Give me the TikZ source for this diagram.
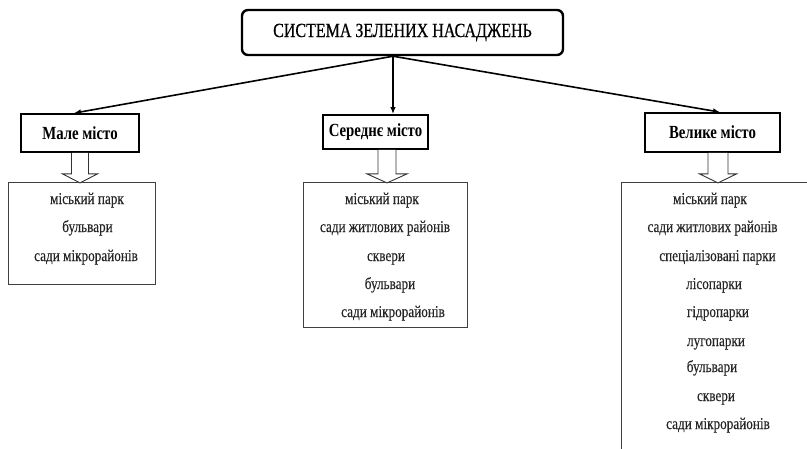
\documentclass[tikz,border=0pt]{standalone}
\usepackage{fontspec}
\setmainfont{Liberation Serif}[FakeStretch=0.8]
\newfontfamily\titlefont{Liberation Serif}[FakeStretch=0.8,FakeBold=0.6]
\newfontfamily\itemfont{Liberation Serif}[FakeStretch=0.8,FakeBold=0.25]
\usetikzlibrary{arrows.meta}
\newcommand\HollowArr[6]{\draw[hollow] ([xshift={#2-#3}]#1.south) -- ++(0,#5) -- ++(#3-#4,0) -- ++(#4,#6) -- ++(#4,-#6) -- ++(#3-#4,0) -- ++(0,-#5);}
\begin{document}
\begin{tikzpicture}[x=1pt,y=-1pt,
 titlebox/.style={draw,line width=2.4pt,rounded corners=6pt,minimum width=321pt,minimum height=45pt,inner sep=0pt,font=\titlefont\fontsize{20}{20}\selectfont},
 citybox/.style={draw,line width=1.8pt,inner sep=0pt,font=\bfseries\fontsize{18.5}{18.5}\selectfont},
 listbox/.style={draw=black!75,line width=0.9pt,inner sep=0pt},
 item/.style={inner sep=0pt,anchor=base,font=\itemfont\fontsize{16.5}{16.5}\selectfont,text=black!85},
 conn/.style={line width=1.6pt,-{Latex[length=7pt,width=5.5pt]}},
 hollow/.style={draw=black!80,line width=0.9pt,fill=white,line join=miter}]
\clip (0,0) rectangle (807,448);
\fill[white] (0,0) rectangle (807,448);
\node[titlebox] (title) at (402.5,32.5) {СИСТЕМА ЗЕЛЕНИХ НАСАДЖЕНЬ};
\node[citybox,minimum width=118pt,minimum height=38pt] (male) at (80,133) {Мале місто};
\node[citybox,minimum width=105pt,minimum height=34pt] (ser) at (375.5,132) {Середнє місто};
\node[citybox,minimum width=135pt,minimum height=39pt] (vel) at (712.5,132.5) {Велике місто};
\node[listbox,minimum width=147pt,minimum height=102pt] (lbox) at (81.5,233) {};
\node[listbox,minimum width=164pt,minimum height=145pt] (mbox) at (385,254.5) {};
\node[listbox,minimum width=192pt,minimum height=280pt] (rbox) at (717,322) {};
\coordinate (o) at ([xshift=-9.5pt]title.south);
\draw[conn] (o) -- ([xshift=-6pt]male.north);
\draw[conn] (o) -- (o |- ser.north);
\draw[conn] (o) -- ([xshift=7.5pt]vel.north);
\HollowArr{male}{0}{8.5}{17.5}{21}{9}
\HollowArr{ser}{11.5}{9}{20}{24}{9}
\HollowArr{vel}{5.5}{10}{18.5}{21}{9}
\foreach \t/\x/\y [count=\i] in {міський парк/87/200, бульвари/87.5/228, сади мікрорайонів/86/257}
  \node[item] (l\i) at (\x,\y+4) {\t};
\foreach \t/\x/\y [count=\i] in {міський парк/382/200, сади житлових районів/385/228, сквери/386/257, бульвари/390/285, сади мікрорайонів/393/313}
  \node[item] (m\i) at (\x,\y+4) {\t};
\foreach \t/\x/\y [count=\i] in {міський парк/710/200, сади житлових районів/712.5/228, спеціалізовані парки/717.5/257, лісопарки/714/285, гідропарки/718/313, лугопарки/716/342, бульвари/712/368, сквери/716/397, сади мікрорайонів/718/425}
  \node[item] (r\i) at (\x,\y+4) {\t};
\end{tikzpicture}
\end{document}
